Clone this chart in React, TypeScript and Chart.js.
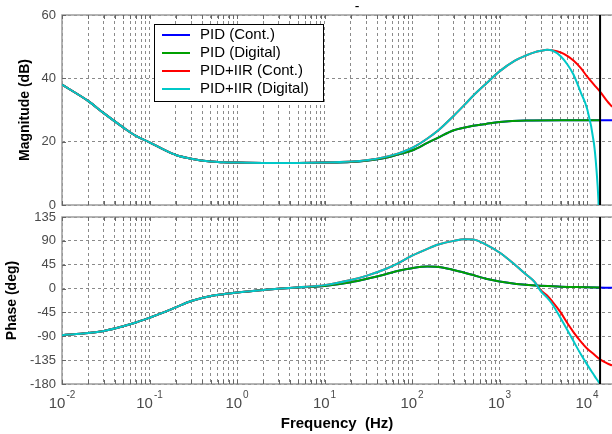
import React, { useEffect, useRef } from "react";
import { Chart, registerables } from "chart.js";

Chart.register(...registerables);

// ---------------- data ----------------
const X_MIN = 0.01;
const X_MAX = 19300;
const NYQUIST_HZ = 14100;

const MAG_MIN = 0;
const MAG_MAX = 60;
const MAG_STEP = 20;
const PHASE_MIN = -180;
const PHASE_MAX = 135;
const PHASE_STEP = 45;
const DECADE_EXPONENTS = [-2, -1, 0, 1, 2, 3, 4];

const LABEL_PID_CONT = "PID (Cont.)";
const LABEL_PID_DIG = "PID (Digital)";
const LABEL_IIR_CONT = "PID+IIR (Cont.)";
const LABEL_IIR_DIG = "PID+IIR (Digital)";

const TITLE_TOP = "-";
const X_TITLE = "Frequency  (Hz)";
const MAG_TITLE = "Magnitude (dB)";
const PHASE_TITLE = "Phase (deg)";

// PID (continuous)
const FREQ_PID_CONT = [0.01, 0.02, 0.03, 0.05, 0.07, 0.1, 0.15, 0.2, 0.3, 0.5, 0.7, 1, 2, 5, 10, 20, 30, 50, 70, 100, 150, 200, 300, 500, 700, 1000, 2000, 5000, 10000, 19300];
const MAG_PID_CONT = [38.0, 32.8, 29.0, 24.5, 21.8, 19.8, 17.3, 15.8, 14.6, 13.7, 13.5, 13.4, 13.3, 13.3, 13.4, 13.6, 14.0, 14.9, 16.0, 17.2, 19.6, 21.3, 23.6, 25.0, 25.6, 26.2, 26.7, 26.8, 26.8, 26.8];
const PHASE_PID_CONT = [-88, -84, -80, -71, -64, -55, -44, -35.5, -23.5, -14, -10.5, -7.6, -2.5, 2, 5, 12, 18, 27, 33.5, 38.5, 41.5, 40.8, 35, 25.5, 18.5, 13.5, 7, 3.5, 2.5, 1.5];

// PID (digital)
const FREQ_PID_DIG = [0.01, 0.02, 0.03, 0.05, 0.07, 0.1, 0.15, 0.2, 0.3, 0.5, 0.7, 1, 2, 5, 10, 20, 30, 50, 70, 100, 150, 200, 300, 500, 700, 1000, 2000, 5000, 10000, 14100];
const MAG_PID_DIG = [38.0, 32.8, 29.0, 24.5, 21.8, 19.8, 17.3, 15.8, 14.6, 13.7, 13.5, 13.4, 13.3, 13.3, 13.4, 13.6, 14.0, 14.9, 16.0, 17.2, 19.6, 21.3, 23.6, 25.0, 25.6, 26.2, 26.7, 26.8, 26.8, 26.8];
const PHASE_PID_DIG = [-88, -84, -80, -71, -64, -55, -44, -35.5, -23.5, -14, -10.5, -7.6, -2.5, 2, 5, 12, 18, 27, 33.5, 38.5, 41.5, 40.8, 35, 25.5, 18.5, 13.5, 7, 3.5, 2.5, 2];

// PID+IIR (continuous)
const FREQ_IIR_CONT = [0.01, 0.02, 0.03, 0.05, 0.07, 0.1, 0.15, 0.2, 0.3, 0.5, 0.7, 1, 2, 5, 10, 20, 30, 50, 70, 100, 150, 200, 300, 400, 500, 700, 1000, 1500, 2000, 2500, 3000, 3500, 4000, 5000, 6000, 7000, 8500, 10000, 12000, 14100, 17000, 19300];
const MAG_IIR_CONT = [38.0, 32.8, 29.0, 24.5, 21.8, 19.8, 17.3, 15.8, 14.6, 13.7, 13.5, 13.4, 13.3, 13.3, 13.4, 13.7, 14.1, 15.2, 16.3, 18.0, 21.0, 23.6, 28.2, 31.7, 34.5, 38.3, 42.2, 45.6, 47.2, 48.2, 48.7, 49.0, 48.9, 48.2, 47.0, 45.6, 43.2, 40.6, 38.0, 35.8, 32.8, 31.0];
const PHASE_IIR_CONT = [-88, -84, -80, -71, -64, -55, -44, -35.5, -23.5, -14, -10.5, -7.6, -2.5, 2.5, 6.5, 16, 24, 37, 48, 62, 75, 83, 90, 93, 92.5, 83, 68, 45, 27, 13, -4, -13, -24, -45, -66, -82, -100, -113, -124, -133.5, -141, -145];

// PID+IIR (digital)
const FREQ_IIR_DIG = [0.01, 0.02, 0.03, 0.05, 0.07, 0.1, 0.15, 0.2, 0.3, 0.5, 0.7, 1, 2, 5, 10, 20, 30, 50, 70, 100, 150, 200, 300, 400, 500, 700, 1000, 1500, 2000, 2500, 3000, 3500, 4000, 5000, 6000, 7000, 8500, 10000, 12000, 12800, 13500, 14000];
const MAG_IIR_DIG = [38.0, 32.8, 29.0, 24.5, 21.8, 19.8, 17.3, 15.8, 14.6, 13.7, 13.5, 13.4, 13.3, 13.3, 13.4, 13.7, 14.1, 15.2, 16.3, 18.0, 21.0, 23.6, 28.2, 31.7, 34.5, 38.3, 42.2, 45.6, 47.2, 48.2, 48.7, 49.0, 48.8, 47.0, 44.3, 41.2, 35.5, 30.5, 19.5, 11.5, 1.5, -12];
const PHASE_IIR_DIG = [-88, -84, -80, -71, -64, -55, -44, -35.5, -23.5, -14, -10.5, -7.6, -2.5, 2.5, 6.5, 16, 24, 37, 48, 62, 75, 83, 90, 93, 92.5, 83, 68, 45, 27, 13, -6, -17, -29, -56, -79, -99, -124, -143, -163, -170, -175.5, -179];

// ---------------- styles ----------------
const FONT = "'Liberation Sans', Arial, Helvetica, sans-serif";
const TICK_COLOR = "#4a4a4a";
const GRID_COLOR = "#8a8a8a";
const FRAME_COLOR = "#9c9c9c";
const COLOR_PID_CONT = "#0000ff";
const COLOR_PID_DIG = "#00a000";
const COLOR_IIR_CONT = "#ff0000";
const COLOR_IIR_DIG = "#00c8c8";

function pts(freqs: number[], vals: number[]) {
  return freqs.map((f, i) => ({ x: f, y: vals[i] }));
}

function buildDatasets(kind: "mag" | "phase", yMin: number, yMax: number) {
  const m = kind === "mag";
  const line = (label: string, data: any[], color: string, order: number) => ({
    label,
    data,
    borderColor: color,
    backgroundColor: color,
    borderWidth: 2,
    pointRadius: 0,
    fill: false,
    cubicInterpolationMode: "monotone",
    order,
  });
  return [
    {
      label: "Nyquist",
      data: [
        { x: NYQUIST_HZ, y: yMin },
        { x: NYQUIST_HZ, y: yMax },
      ],
      borderColor: "#000000",
      borderWidth: 2,
      pointRadius: 0,
      order: 0,
    },
    line(LABEL_IIR_DIG, pts(FREQ_IIR_DIG, m ? MAG_IIR_DIG : PHASE_IIR_DIG), COLOR_IIR_DIG, 1),
    line(LABEL_IIR_CONT, pts(FREQ_IIR_CONT, m ? MAG_IIR_CONT : PHASE_IIR_CONT), COLOR_IIR_CONT, 2),
    line(LABEL_PID_DIG, pts(FREQ_PID_DIG, m ? MAG_PID_DIG : PHASE_PID_DIG), COLOR_PID_DIG, 3),
    line(LABEL_PID_CONT, pts(FREQ_PID_CONT, m ? MAG_PID_CONT : PHASE_PID_CONT), COLOR_PID_CONT, 4),
  ];
}

const framePlugin = {
  id: "frame",
  beforeDatasetsDraw(chart: any) {
    const { ctx, chartArea: a, scales } = chart;
    ctx.save();
    ctx.strokeStyle = FRAME_COLOR;
    ctx.lineWidth = 1.5;
    ctx.beginPath();
    ctx.moveTo(a.right + 3, a.top);
    ctx.lineTo(a.left, a.top);
    ctx.lineTo(a.left, a.bottom);
    ctx.lineTo(a.right + 3, a.bottom);
    ctx.stroke();
    ctx.lineWidth = 1;
    ctx.strokeStyle = "#666666";
    ctx.beginPath();
    scales.x.ticks.forEach((t: any) => {
      const px = Math.round(scales.x.getPixelForValue(t.value)) + 0.5;
      ctx.moveTo(px, a.bottom);
      ctx.lineTo(px, a.bottom - 4);
      ctx.moveTo(px, a.top);
      ctx.lineTo(px, a.top + 4);
    });
    scales.y.ticks.forEach((t: any) => {
      const py = Math.round(scales.y.getPixelForValue(t.value)) + 0.5;
      ctx.moveTo(a.left, py);
      ctx.lineTo(a.left + 4, py);
    });
    ctx.stroke();
    ctx.restore();
  },
};

const legendPlugin = {
  id: "boxLegend",
  afterDatasetsDraw(chart: any) {
    const ctx = chart.ctx;
    const items = [
      { label: LABEL_PID_CONT, color: COLOR_PID_CONT },
      { label: LABEL_PID_DIG, color: COLOR_PID_DIG },
      { label: LABEL_IIR_CONT, color: COLOR_IIR_CONT },
      { label: LABEL_IIR_DIG, color: COLOR_IIR_DIG },
    ];
    ctx.save();
    const x0 = 154.5, y0 = 24.5, w = 169, h = 77;
    ctx.fillStyle = "#ffffff";
    ctx.fillRect(x0, y0, w, h);
    ctx.strokeStyle = "#000000";
    ctx.lineWidth = 1;
    ctx.strokeRect(x0, y0, w, h);
    ctx.font = `15px ${FONT}`;
    ctx.textBaseline = "middle";
    ctx.textAlign = "left";
    items.forEach((it, i) => {
      const y = 35 + i * 18;
      ctx.strokeStyle = it.color;
      ctx.lineWidth = 2;
      ctx.beginPath();
      ctx.moveTo(162, y);
      ctx.lineTo(190, y);
      ctx.stroke();
      ctx.fillStyle = "#000000";
      ctx.fillText(it.label, 200, y);
    });
    // tiny title mark at the top
    ctx.font = `14px ${FONT}`;
    ctx.textAlign = "center";
    ctx.textBaseline = "alphabetic";
    ctx.fillText(TITLE_TOP, 357, 10.5);
    ctx.restore();
  },
};

const decadeLabelPlugin = {
  id: "decadeLabels",
  afterDraw(chart: any) {
    const xs = chart.scales.x;
    const ctx = chart.ctx;
    const bottom = chart.chartArea.bottom;
    ctx.save();
    ctx.fillStyle = TICK_COLOR;
    ctx.textAlign = "left";
    ctx.textBaseline = "alphabetic";
    DECADE_EXPONENTS.forEach((e) => {
      const px = xs.getPixelForValue(Math.pow(10, e));
      ctx.font = `15px ${FONT}`;
      const wb = ctx.measureText("10").width;
      ctx.font = `10px ${FONT}`;
      const we = ctx.measureText(String(e)).width;
      const sx = px - (wb + 1 + we) / 2;
      ctx.font = `15px ${FONT}`;
      ctx.fillText("10", sx, bottom + 24.3);
      ctx.font = `10px ${FONT}`;
      ctx.fillText(String(e), sx + wb + 1, bottom + 14.3);
    });
    ctx.restore();
  },
};

function keepNiceTicks(scale: any) {
  scale.ticks = scale.ticks.filter((t: any) => {
    const v = t.value;
    const p = Math.pow(10, Math.floor(Math.log10(v) + 1e-9));
    const s = v / p;
    return Math.abs(s - Math.round(s)) < 1e-6;
  });
}

function makeConfig(p: {
  kind: "mag" | "phase";
  yMin: number;
  yMax: number;
  yStep: number;
  yTitle: string;
  yTitlePad: number;
  xHeight: number;
  padTop: number;
  xTitle: string | null;
  plugins: any[];
}): any {
  return {
    type: "line",
    data: { datasets: buildDatasets(p.kind, p.yMin, p.yMax) },
    options: {
      responsive: false,
      animation: false,
      devicePixelRatio: 1,
      events: [],
      layout: { padding: { top: p.padTop, left: 0, right: 0, bottom: 0 } },
      plugins: { legend: { display: false }, tooltip: { enabled: false }, title: { display: false } },
      scales: {
        x: {
          type: "logarithmic",
          min: X_MIN,
          max: X_MAX,
          afterBuildTicks: keepNiceTicks,
          afterFit: (s: any) => {
            s.height = p.xHeight;
          },
          ticks: { display: false },
          grid: { color: GRID_COLOR, lineWidth: 1, drawTicks: false },
          border: { display: false, dash: [3, 3] },
          title: p.xTitle
            ? {
                display: true,
                text: p.xTitle,
                color: "#000000",
                font: { family: FONT, size: 15, weight: "bold" },
                padding: { top: 0, bottom: 1 },
              }
            : { display: false },
        },
        y: {
          type: "linear",
          min: p.yMin,
          max: p.yMax,
          afterFit: (s: any) => {
            s.width = 62;
          },
          ticks: {
            stepSize: p.yStep,
            color: TICK_COLOR,
            font: { family: FONT, size: 13 },
            padding: 6,
          },
          grid: { color: GRID_COLOR, lineWidth: 1, drawTicks: false },
          border: { display: false, dash: [3, 3] },
          title: {
            display: true,
            text: p.yTitle,
            color: "#000000",
            font: { family: FONT, size: 14, weight: "bold" },
            padding: { top: p.yTitlePad, bottom: 0 },
          },
        },
      },
    },
    plugins: p.plugins,
  };
}

export default function App() {
  const topRef = useRef<HTMLCanvasElement | null>(null);
  const botRef = useRef<HTMLCanvasElement | null>(null);

  useEffect(() => {
    if (!topRef.current || !botRef.current) return;
    const top = new Chart(
      topRef.current,
      makeConfig({
        kind: "mag",
        yMin: MAG_MIN,
        yMax: MAG_MAX,
        yStep: MAG_STEP,
        yTitle: MAG_TITLE,
        yTitlePad: 17,
        xHeight: 14,
        padTop: 15,
        xTitle: null,
        plugins: [framePlugin, legendPlugin],
      })
    );
    const bot = new Chart(
      botRef.current,
      makeConfig({
        kind: "phase",
        yMin: PHASE_MIN,
        yMax: PHASE_MAX,
        yStep: PHASE_STEP,
        yTitle: PHASE_TITLE,
        yTitlePad: 4,
        xHeight: 50,
        padTop: 14,
        xTitle: X_TITLE,
        plugins: [framePlugin, decadeLabelPlugin],
      })
    );
    return () => {
      top.destroy();
      bot.destroy();
    };
  }, []);

  return (
    <div
      style={{
        position: "absolute",
        left: 0,
        top: 0,
        width: 612,
        height: 434,
        overflow: "hidden",
        background: "#ffffff",
      }}
    >
      <canvas
        ref={botRef}
        width={612}
        height={231}
        style={{ position: "absolute", left: 0, top: 203, width: 612, height: 231, zIndex: 1 }}
      />
      <canvas
        ref={topRef}
        width={612}
        height={219}
        style={{ position: "absolute", left: 0, top: 0, width: 612, height: 219, zIndex: 2 }}
      />
    </div>
  );
}
